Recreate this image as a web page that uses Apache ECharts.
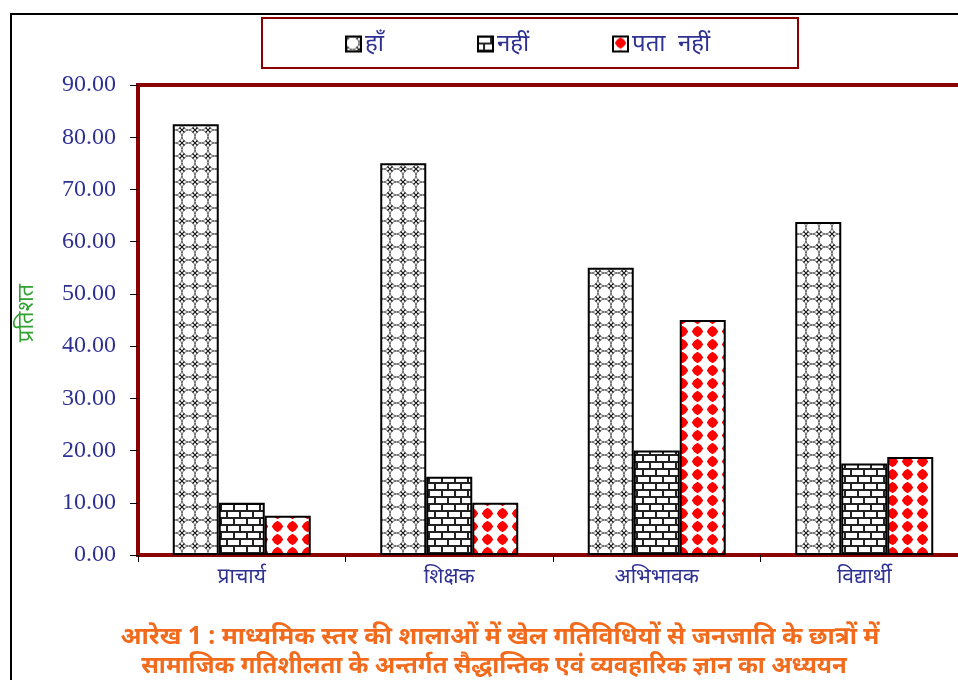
<!DOCTYPE html>
<html>
<head>
<meta charset="utf-8">
<script src="https://cdn.jsdelivr.net/npm/echarts@6/dist/echarts.min.js"></script>
<style>
  html, body { margin: 0; padding: 0; background: #fff; }
  #main { width: 958px; height: 680px; }
</style>
</head>
<body>
<div id="main"></div>
<script>
// data
var categories = ['प्राचार्य', 'शिक्षक', 'अभिभावक', 'विद्यार्थी'];
var seriesNames = ['हाँ', 'नहीं', 'पता  नहीं'];
var haan = [82.5, 75, 55, 63.75];
var nahin = [10, 15, 20, 17.5];
var pataNahin = [7.5, 10, 45, 18.75];
var titleLines = [
  'आरेख 1 : माध्यमिक स्तर की शालाओं में खेल गतिविधियों से जनजाति के छात्रों में',
  'सामाजिक गतिशीलता के अन्तर्गत सैद्धान्तिक एवं व्यवहारिक ज्ञान का अध्ययन'
];

var blue = '#2E3192';
var darkRed = '#8B0000';

// fill patterns
function latticeTile() {
  var c = document.createElement('canvas');
  c.width = 13; c.height = 13;
  var g = c.getContext('2d');
  g.fillStyle = '#fff'; g.fillRect(0, 0, 13, 13);
  g.strokeStyle = '#666'; g.lineWidth = 1;
  g.beginPath(); g.arc(6.5, 6.5, 6.3, 0, Math.PI * 2); g.stroke();
  // small dark crosses where circles meet
  g.strokeStyle = '#111'; g.lineWidth = 1.1;
  [[0, 0], [13, 0], [0, 13], [13, 13]].forEach(function (p) {
    g.beginPath();
    g.moveTo(p[0] - 2.5, p[1] - 2.5); g.lineTo(p[0] + 2.5, p[1] + 2.5);
    g.moveTo(p[0] + 2.5, p[1] - 2.5); g.lineTo(p[0] - 2.5, p[1] + 2.5);
    g.stroke();
  });
  return c;
}
function brickTile() {
  var c = document.createElement('canvas');
  c.width = 26; c.height = 14;
  var g = c.getContext('2d');
  g.fillStyle = '#222'; g.fillRect(0, 0, 26, 14);
  g.fillStyle = '#fff';
  g.fillRect(1, 1, 11, 5); g.fillRect(14, 1, 11, 5);
  g.fillRect(7, 8, 11, 5); g.fillRect(20, 8, 6, 5); g.fillRect(0, 8, 5, 5);
  return c;
}
function dotTile() {
  var c = document.createElement('canvas');
  c.width = 15; c.height = 13;
  var g = c.getContext('2d');
  g.fillStyle = '#fff'; g.fillRect(0, 0, 15, 13);
  g.fillStyle = '#ff0000';
  g.beginPath(); g.arc(7.5, 6.5, 4.8, 0, Math.PI * 2); g.fill();
  g.fillRect(6.5, 1, 2, 11); g.fillRect(2, 5.5, 11, 2);
  return c;
}

var fills = [
  { image: latticeTile(), repeat: 'repeat' },
  { image: brickTile(), repeat: 'repeat' },
  { image: dotTile(), repeat: 'repeat' }
];
var values = [haan, nahin, pataNahin];
var legendLeft = [340, 472, 607];

var chart = echarts.init(document.getElementById('main'));

var series = seriesNames.map(function (name, i) {
  return {
    name: name,
    type: 'bar',
    data: values[i],
    barWidth: 46,
    barGap: '0%',
    itemStyle: { color: fills[i], borderColor: '#000', borderWidth: 2 }
  };
});

var legends = seriesNames.map(function (name, i) {
  return {
    data: [name],
    left: legendLeft[i],
    top: 27,
    itemWidth: 15,
    itemHeight: 15,
    itemGap: 5,
    icon: 'rect',
    textStyle: { color: blue, fontSize: 24, padding: [0, 0, 0, -1], fontFamily: 'Noto Sans' }
  };
});

var option = {
  backgroundColor: '#fff',
  animation: false,
  legend: legends,
  grid: {
    left: 138, top: 85, height: 470, width: 830,
    outerBoundsMode: 'none',
    show: true, borderColor: darkRed, borderWidth: 4
  },
  xAxis: {
    type: 'category',
    data: categories,
    axisLine: { lineStyle: { color: darkRed, width: 4 } },
    axisTick: { show: true, length: 7, lineStyle: { color: '#000', width: 1 } },
    axisLabel: { color: blue, fontSize: 21, margin: 12, fontFamily: 'Noto Sans' }
  },
  yAxis: {
    type: 'value',
    min: 0, max: 90, interval: 10,
    name: 'प्रतिशत',
    nameLocation: 'middle',
    nameRotate: 90,
    nameGap: 100,
    nameTextStyle: { color: '#33a033', fontSize: 22, padding: [0, 0, 0, 14], fontFamily: 'Noto Sans' },
    axisLine: { show: true, lineStyle: { color: darkRed, width: 4 } },
    axisTick: { show: true, length: 8, lineStyle: { color: '#000', width: 1 } },
    axisLabel: {
      color: blue, fontSize: 24, margin: 22,
      fontFamily: 'Liberation Serif',
      formatter: function (v) { return v.toFixed(2); }
    },
    splitLine: { show: false }
  },
  series: series,
  graphic: [
    {
      type: 'rect', silent: true, z: -1,
      shape: { x: 11, y: 14, width: 1000, height: 1000 },
      style: { fill: 'none', stroke: '#000', lineWidth: 2 }
    },
    {
      type: 'rect', silent: true,
      shape: { x: 262, y: 18, width: 536, height: 50 },
      style: { fill: 'none', stroke: darkRed, lineWidth: 2 }
    },
    {
      type: 'text', silent: true,
      x: 500, y: 637,
      style: {
        text: titleLines[0],
        fill: '#F26B1D', fontSize: 24.7, fontWeight: 'bold',
        align: 'center', verticalAlign: 'middle', fontFamily: 'Noto Sans'
      }
    },
    {
      type: 'text', silent: true,
      x: 494, y: 666,
      style: {
        text: titleLines[1],
        fill: '#F26B1D', fontSize: 24, fontWeight: 'bold',
        align: 'center', verticalAlign: 'middle', fontFamily: 'Noto Sans'
      }
    }
  ]
};

chart.setOption(option);
</script>
</body>
</html>
